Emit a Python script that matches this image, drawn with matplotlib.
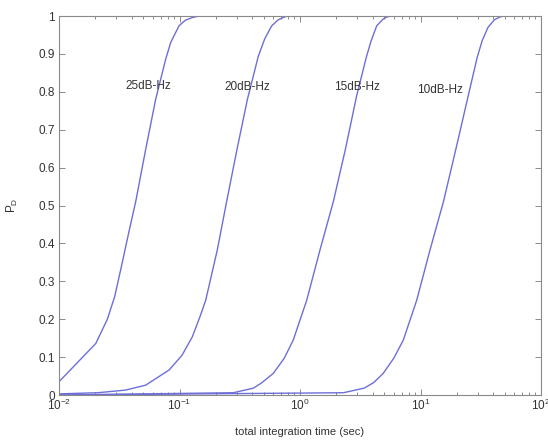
import matplotlib
matplotlib.use("Agg")
import matplotlib.pyplot as plt
from matplotlib.ticker import LogLocator, FixedLocator, NullFormatter

plt.rcParams['font.family'] = ['Liberation Sans', 'DejaVu Sans']
plt.rcParams['mathtext.fontset'] = 'custom'
plt.rcParams['mathtext.rm'] = 'Liberation Sans'

# ---- data ----
t25 = [0.01, 0.0202, 0.0252, 0.0290, 0.0330, 0.0380, 0.0433, 0.0524, 0.0634, 0.0768, 0.0845, 0.099, 0.112, 0.128, 0.145, 100]
p25 = [0.035, 0.136, 0.20, 0.26, 0.34, 0.43, 0.51, 0.648, 0.78, 0.886, 0.93, 0.974, 0.989, 0.996, 1.0, 1.0]

t20 = [0.01, 0.021, 0.0357, 0.0524, 0.082, 0.105, 0.128, 0.148, 0.165, 0.206, 0.246, 0.300, 0.366, 0.451, 0.51, 0.582, 0.66, 0.75, 0.826, 100]
p20 = [0.003, 0.006, 0.013, 0.026, 0.066, 0.105, 0.154, 0.207, 0.25, 0.383, 0.51, 0.648, 0.78, 0.894, 0.94, 0.974, 0.99, 0.998, 1.0, 1.0]

t15 = [0.01, 0.28, 0.41, 0.48, 0.6, 0.74, 0.879, 1.137, 1.466, 1.89, 2.38, 2.95, 3.57, 3.9, 4.33, 4.9, 5.3, 5.8, 100]
p15 = [0.0, 0.006, 0.018, 0.032, 0.057, 0.097, 0.145, 0.25, 0.383, 0.51, 0.648, 0.789, 0.894, 0.935, 0.974, 0.992, 0.998, 1.0, 1.0]

t10 = [0.01, 2.29, 3.4, 4.1, 4.9, 6.0, 7.2, 9.3, 12.0, 15.5, 19.7, 24.5, 29.5, 32.5, 36.3, 41, 46, 50, 100]
p10 = [0.0, 0.006, 0.018, 0.033, 0.057, 0.097, 0.145, 0.25, 0.383, 0.51, 0.65, 0.78, 0.89, 0.935, 0.97, 0.99, 0.998, 1.0, 1.0]

labels = ['25dB-Hz', '20dB-Hz', '15dB-Hz', '10dB-Hz']
label_x = [0.0548, 0.363, 2.97, 14.5]
label_y = [0.815, 0.812, 0.812, 0.805]

yticks = [0, 0.1, 0.2, 0.3, 0.4, 0.5, 0.6, 0.7, 0.8, 0.9, 1]
ytick_labels = ['0', '0.1', '0.2', '0.3', '0.4', '0.5', '0.6', '0.7', '0.8', '0.9', '1']
xticks = [0.01, 0.1, 1, 10, 100]
xtick_labels = [r'$\mathregular{10^{-2}}$', r'$\mathregular{10^{-1}}$', r'$\mathregular{10^{0}}$',
                r'$\mathregular{10^{1}}$', r'$\mathregular{10^{2}}$']

# ---- figure ----
fig = plt.figure(figsize=(5.48, 4.42), dpi=100)
ax = fig.add_axes([59/548, 47/442, 482/548, 379/442])

line_color = '#6e6ed8'
for t, p in [(t25, p25), (t20, p20), (t15, p15), (t10, p10)]:
    ax.plot(t, p, color=line_color, lw=1.0)

ax.set_xscale('log')
ax.set_xlim(0.01, 100)
ax.set_ylim(0, 1)

ax.xaxis.set_major_locator(FixedLocator(xticks))
ax.set_xticklabels(xtick_labels)
ax.xaxis.set_minor_locator(LogLocator(base=10, subs=range(2, 10)))
ax.xaxis.set_minor_formatter(NullFormatter())
ax.set_yticks(yticks)
ax.set_yticklabels(ytick_labels)

text_color = '#333333'
axis_color = '#8a8a8a'
ax.tick_params(which='both', direction='in', top=True, right=True,
               colors=axis_color, labelcolor=text_color, labelsize=8.5, width=0.7)
ax.tick_params(which='major', length=4)
ax.tick_params(which='minor', length=2.5)
ax.tick_params(axis='x', pad=2)
ax.tick_params(axis='y', pad=3)
for s in ax.spines.values():
    s.set_color(axis_color)
    s.set_linewidth(0.8)

for lab, x, y in zip(labels, label_x, label_y):
    ax.text(x, y, lab, ha='center', va='center', fontsize=8.5, color=text_color)

ax.set_xlabel('total integration time (sec)', fontsize=8, color=text_color, labelpad=10)
ax.set_ylabel(r'$\mathregular{P_D}$', fontsize=8.5, color=text_color, labelpad=13)

fig.savefig('out.png', dpi=100)
